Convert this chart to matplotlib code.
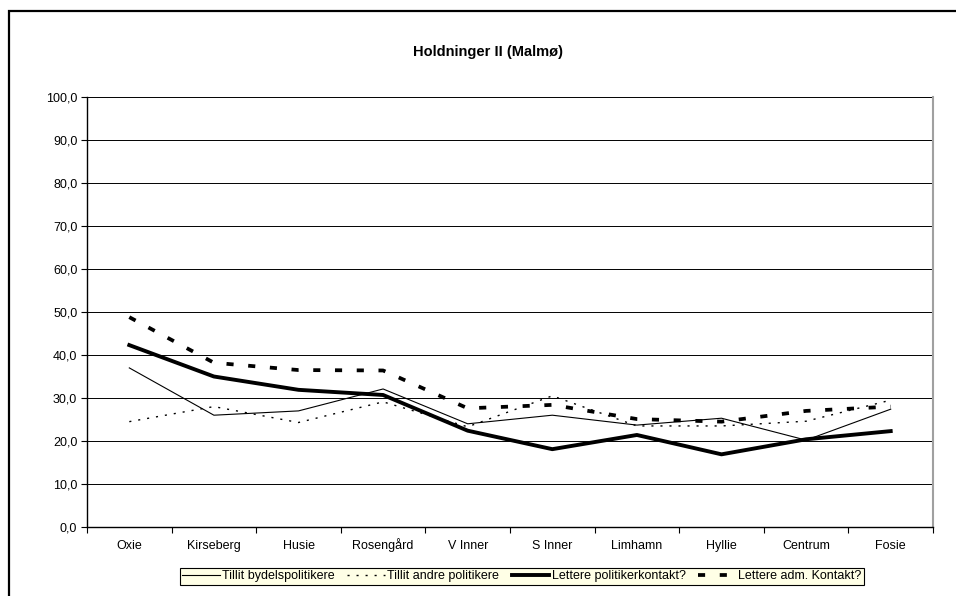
import numpy as np
import matplotlib
matplotlib.use("Agg")
import matplotlib.pyplot as plt
from matplotlib.patches import Rectangle
from matplotlib.ticker import FuncFormatter

plt.rcParams['font.family'] = ['Liberation Sans', 'DejaVu Sans']

bydeler = ['Oxie', 'Kirseberg', 'Husie', 'Rosengård', 'V Inner', 'S Inner',
           'Limhamn', 'Hyllie', 'Centrum', 'Fosie']

tillit_bydel = [37.0, 26.0, 27.0, 32.1, 24.0, 26.0, 23.7, 25.3, 20.2, 27.4]
tillit_andre = [24.5, 28.0, 24.3, 29.1, 23.3, 30.5, 23.5, 23.5, 24.6, 29.5]
lettere_pol = [42.3, 35.0, 31.9, 30.7, 22.4, 18.1, 21.4, 16.9, 20.4, 22.3]
lettere_adm = [48.8, 38.2, 36.5, 36.4, 27.6, 28.4, 25.1, 24.5, 27.0, 28.0]

fig = plt.figure(figsize=(9.56, 5.96), dpi=100)

# outer chart frame
fig.patches.append(Rectangle((9 / 956, -0.1), 1.2, 1 - 11 / 596 + 0.1,
                             transform=fig.transFigure, fill=False,
                             edgecolor='black', linewidth=1.6))

ax = fig.add_axes([87 / 956, 1 - 527 / 596, (933 - 87) / 956, (527 - 97) / 596])
x = np.arange(len(bydeler))

ax.plot(x, tillit_bydel, color='black', lw=0.8, label='Tillit bydelspolitikere')
ax.plot(x, tillit_andre, color='black', lw=1.0, ls=(0, (1.5, 5)),
        label='Tillit andre politikere')
ax.plot(x, lettere_pol, color='black', lw=2.8, label='Lettere politikerkontakt?')
ax.plot(x, lettere_adm, color='black', lw=2.7, ls=(0, (1.9, 3.9)),
        label='Lettere adm. Kontakt?')

ax.set_xlim(-0.5, len(bydeler) - 0.5)
ax.set_ylim(0, 100)
ax.set_yticks(np.arange(0, 101, 10))
ax.yaxis.set_major_formatter(FuncFormatter(lambda v, p: f'{v:.1f}'.replace('.', ',')))
ax.set_xticks(x)
ax.set_xticklabels(bydeler, va='baseline')
ax.set_xticks(np.arange(-0.5, len(bydeler)), minor=True)
ax.tick_params(axis='x', which='major', length=0, pad=15.8, labelsize=9)
ax.tick_params(axis='x', which='minor', length=4, width=0.8, direction='out')
ax.tick_params(axis='y', length=4, width=0.8, direction='out', labelsize=9, pad=3)
ax.grid(axis='y', color='black', lw=0.7)
ax.set_axisbelow(True)

for side in ('left', 'bottom'):
    ax.spines[side].set_linewidth(1.0)
ax.spines['top'].set_visible(False)
ax.spines['right'].set_color('#a0a0a0')
ax.spines['right'].set_linewidth(1.5)

fig.text(488 / 956, 1 - 52 / 596, 'Holdninger II (Malmø)', ha='center', va='center',
         fontsize=10.5, fontweight='bold')

leg = fig.legend(loc='center', bbox_to_anchor=(522 / 956, 1 - 576 / 596), ncol=4,
                 fontsize=9, frameon=True, fancybox=False, handlelength=3.0,
                 handletextpad=0.2, columnspacing=1.0, borderpad=0.2)
leg.get_frame().set_facecolor('#ffffe6')
leg.get_frame().set_edgecolor('black')
leg.get_frame().set_linewidth(0.8)
leg.get_frame().set_alpha(1)

fig.savefig('out.png', dpi=100)
